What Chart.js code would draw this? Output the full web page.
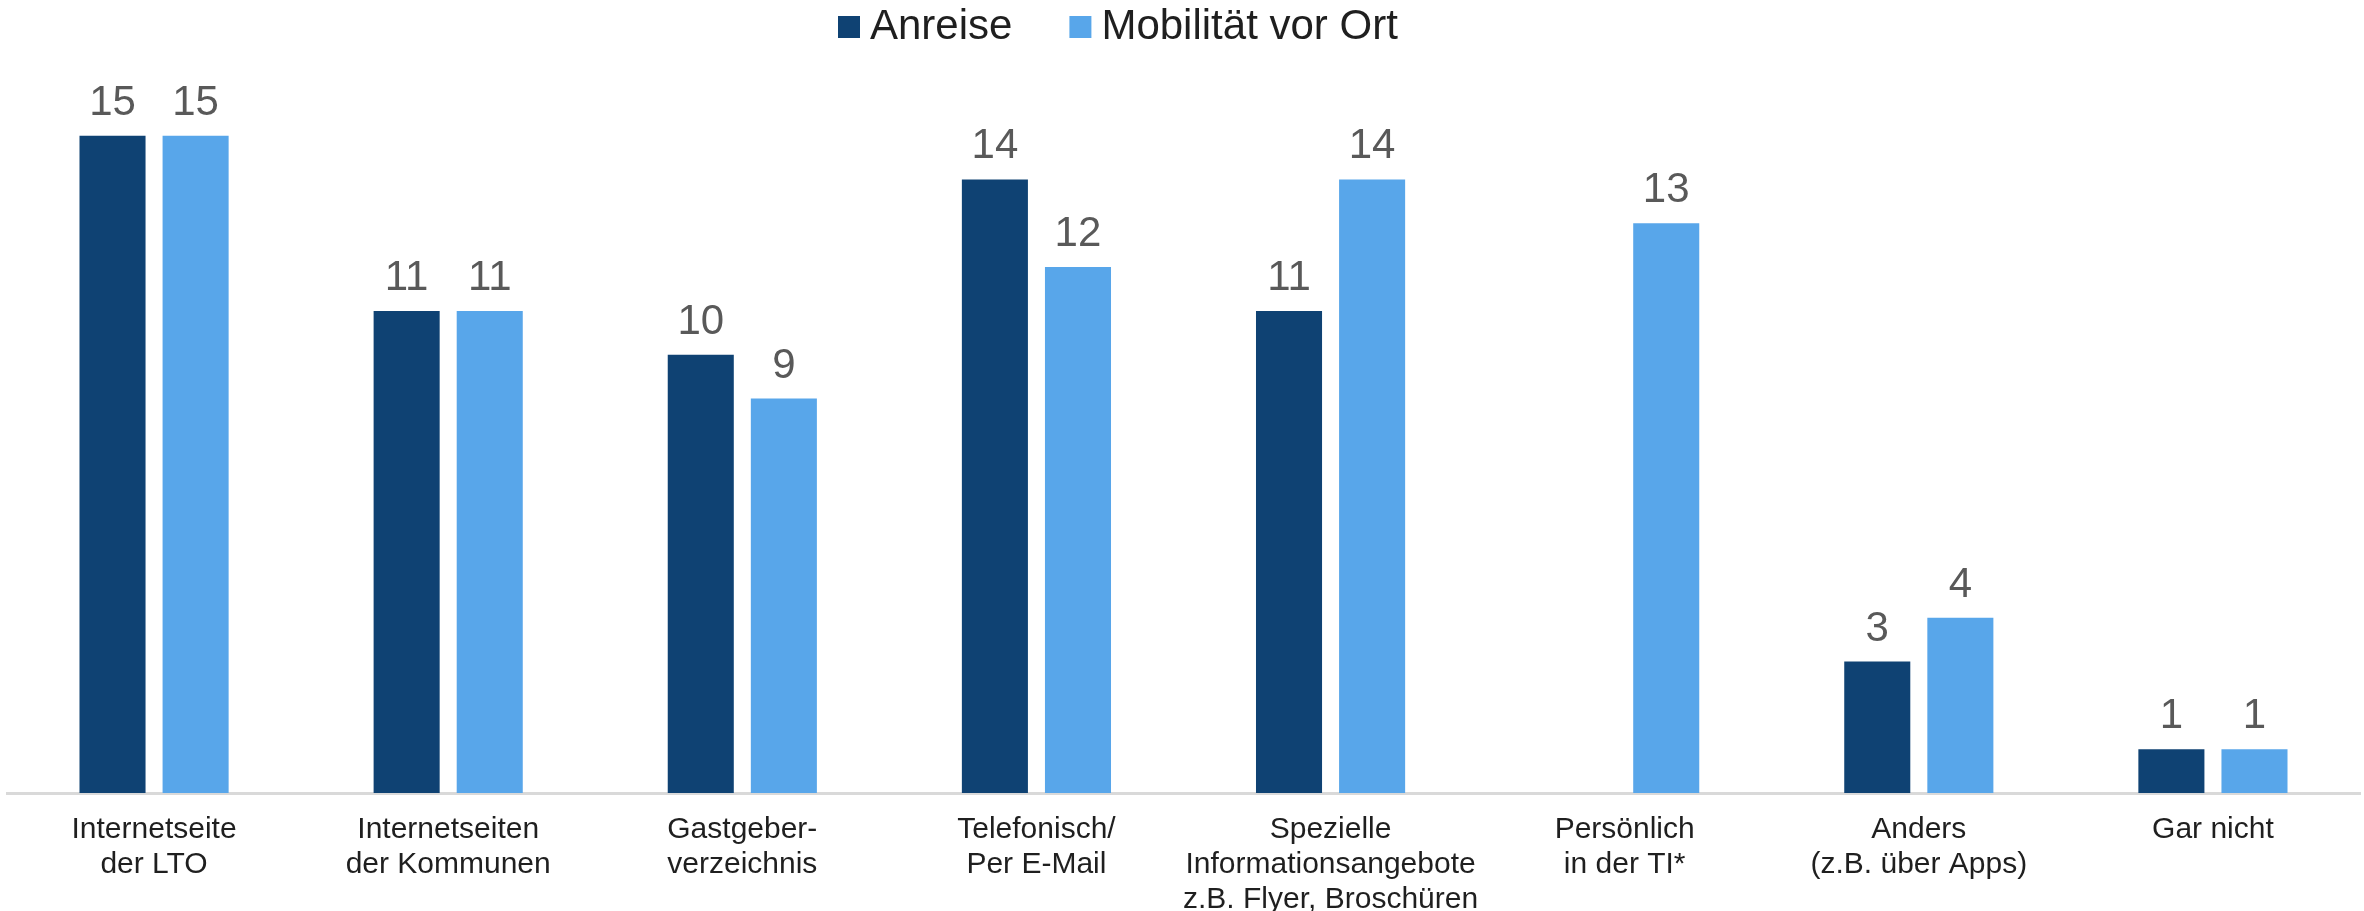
<!DOCTYPE html>
<html>
<head>
<meta charset="utf-8">
<script src="https://cdn.jsdelivr.net/npm/chart.js@4.4.1/dist/chart.umd.min.js"></script>
<style>
  body { margin: 0; background: #fff; }
  #wrap { width: 2364px; height: 911px; }
</style>
</head>
<body>
<div id="wrap"><canvas id="grafico" width="2364" height="911"></canvas></div>
<script>
const categorias = [
    ["Internetseite", "der LTO"],
    ["Internetseiten", "der Kommunen"],
    ["Gastgeber-", "verzeichnis"],
    ["Telefonisch/", "Per E-Mail"],
    ["Spezielle", "Informationsangebote", "z.B. Flyer, Broschüren"],
    ["Persönlich", "in der TI*"],
    ["Anders", "(z.B. über Apps)"],
    ["Gar nicht"]
];
const anreise = [15, 11, 10, 14, 11, 0, 3, 1];
const mobilitaet = [15, 11, 9, 12, 14, 13, 4, 1];

const fonte = '"Liberation Sans", Arial, sans-serif';

// rótulos de valor acima das barras
const rotulosValor = {
    id: 'rotulosValor',
    afterDatasetsDraw(chart) {
        const ctx = chart.ctx;
        ctx.save();
        ctx.font = '42px ' + fonte;
        ctx.fillStyle = '#595959';
        ctx.textAlign = 'center';
        ctx.textBaseline = 'alphabetic';
        chart.data.datasets.forEach((ds, i) => {
            const meta = chart.getDatasetMeta(i);
            meta.data.forEach((bar, j) => {
                const v = ds.data[j];
                if (!v) return;
                ctx.fillText(String(v), bar.x, bar.y - 21);
            });
        });
        ctx.restore();
    }
};

// legenda desenhada à mão (espaçamento igual ao original)
const legendaTopo = {
    id: 'legendaTopo',
    afterDraw(chart) {
        const ctx = chart.ctx;
        ctx.save();
        ctx.font = '42px ' + fonte;
        ctx.textBaseline = 'alphabetic';
        ctx.textAlign = 'left';
        let x = 838;
        chart.data.datasets.forEach((ds) => {
            ctx.fillStyle = ds.backgroundColor;
            ctx.fillRect(x, 16, 22, 22);
            x += 32;
            ctx.fillStyle = '#1f1f1f';
            ctx.fillText(ds.label, x, 39);
            x += ctx.measureText(ds.label).width + 57;
        });
        ctx.restore();
    }
};

const ctx = document.getElementById('grafico').getContext('2d');
new Chart(ctx, {
    type: 'bar',
    data: {
        labels: categorias,
        datasets: [
            {
                label: 'Anreise',
                data: anreise,
                backgroundColor: '#0F4273',
                borderWidth: 0,
                categoryPercentage: 0.565,
                barPercentage: 0.795
            },
            {
                label: 'Mobilität vor Ort',
                data: mobilitaet,
                backgroundColor: '#58A6EA',
                borderWidth: 0,
                categoryPercentage: 0.565,
                barPercentage: 0.795
            }
        ]
    },
    options: {
        responsive: false,
        animation: false,
        layout: { padding: { left: 7, right: 4, top: 48, bottom: -25 } },
        plugins: {
            legend: { display: false },
            tooltip: { enabled: false }
        },
        scales: {
            x: {
                grid: { display: false, drawTicks: false },
                border: { display: true, color: '#D9D9D9', width: 3 },
                ticks: {
                    color: '#1f1f1f',
                    padding: 19,
                    maxRotation: 0,
                    autoSkip: false,
                    font: { family: fonte, size: 30, lineHeight: '35px' }
                }
            },
            y: {
                display: false,
                min: 0,
                max: 17
            }
        }
    },
    plugins: [rotulosValor, legendaTopo]
});
</script>
</body>
</html>
